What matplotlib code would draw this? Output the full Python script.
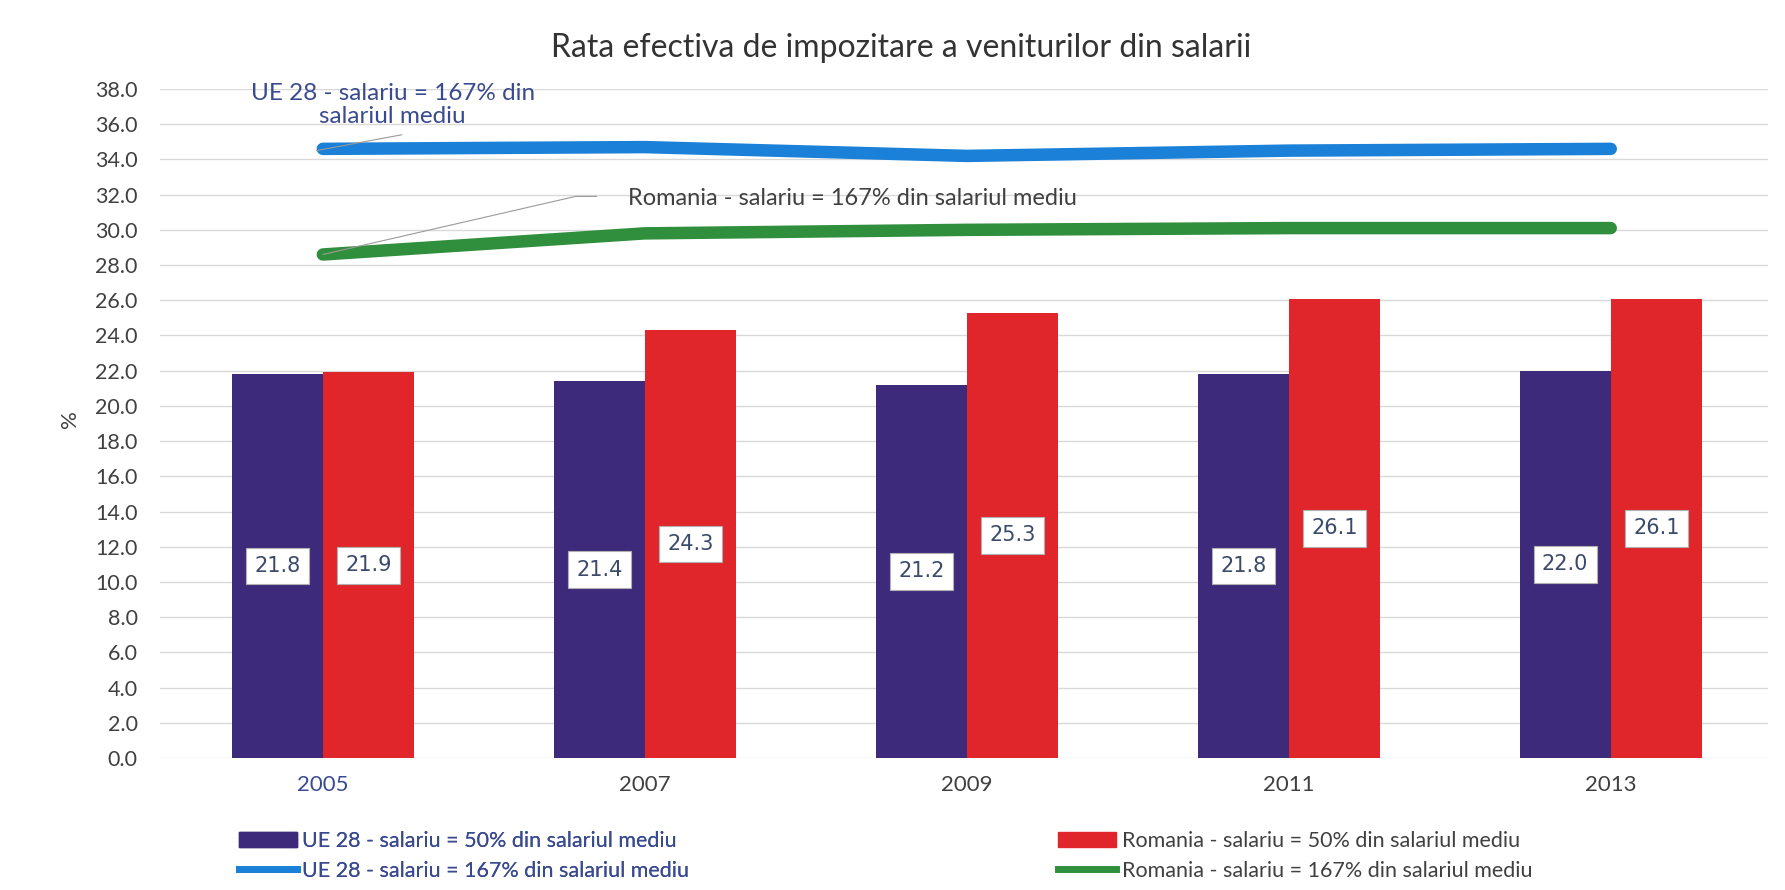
import matplotlib
matplotlib.use("Agg")
import matplotlib.pyplot as plt
from matplotlib.patches import Patch
from matplotlib.lines import Line2D
import numpy as np

plt.rcParams['font.family'] = ['Lato', 'DejaVu Sans']

years = ["2005", "2007", "2009", "2011", "2013"]
ue_50 = [21.8, 21.4, 21.2, 21.8, 22.0]
ro_50 = [21.9, 24.3, 25.3, 26.1, 26.1]
ue_167 = [34.6, 34.7, 34.2, 34.5, 34.6]
ro_167 = [28.6, 29.8, 30.0, 30.1, 30.1]
yticks = np.arange(0, 38.1, 2.0)

title = "Rata efectiva de impozitare a veniturilor din salarii"
lab_ue50 = "UE 28 - salariu = 50% din salariul mediu"
lab_ro50 = "Romania - salariu = 50% din salariul mediu"
lab_ue167 = "UE 28 - salariu = 167% din salariul mediu"
lab_ro167 = "Romania - salariu = 167% din salariul mediu"

c_purple = "#3d2a7a"
c_red = "#e0262b"
c_blue = "#1a80d8"
c_green = "#2f8f3c"
c_text = "#404040"
c_bluetext = "#3a4a90"

fig = plt.figure(figsize=(17.85, 8.9), dpi=100)
ax = fig.add_axes([0.0896, 0.1483, 0.9008, 0.7517])

x = np.arange(len(years))
w = 0.283
ax.bar(x - w / 2, ue_50, width=w, color=c_purple, zorder=2)
ax.bar(x + w / 2, ro_50, width=w, color=c_red, zorder=2)

ax.plot(x, ue_167, color=c_blue, lw=9, solid_capstyle='round', solid_joinstyle='round', zorder=3)
ax.plot(x, ro_167, color=c_green, lw=9, solid_capstyle='round', solid_joinstyle='round', zorder=3)

box = dict(boxstyle="square,pad=0.4", fc="white", ec="#b0b0b0", lw=0.8)
for xi, v in zip(x, ue_50):
    ax.text(xi - w / 2, v / 2, f"{v:.1f}", ha="center", va="center", fontsize=15,
            family="DejaVu Sans", color="#3b4a6b", bbox=box, zorder=5)
for xi, v in zip(x, ro_50):
    ax.text(xi + w / 2, v / 2, f"{v:.1f}", ha="center", va="center", fontsize=15,
            family="DejaVu Sans", color="#3b4a6b", bbox=box, zorder=5)

ax.set_ylim(0, 38)
ax.set_xlim(-0.506, 4.488)
ax.set_yticks(yticks)
ax.set_yticklabels([f"{t:.1f}" for t in yticks], fontsize=15.5, color=c_text)
ax.set_xticks(x)
ax.set_xticklabels(years, fontsize=16, color=c_text)
ax.get_xticklabels()[0].set_color(c_bluetext)
ax.tick_params(axis='y', length=0, pad=16)
ax.tick_params(axis='x', length=0, pad=12)
ax.grid(axis='y', color="#d9d9d9", lw=1, zorder=0)
for s in ax.spines.values():
    s.set_visible(False)
ax.set_ylabel("%", fontsize=16, color=c_text)
ax.yaxis.set_label_coords(-0.050, 0.507)

# annotations
ax.plot([-0.02, 0.245], [34.5, 35.4], color="#9a9a9a", lw=0.8, zorder=4)
ax.text(0.217, 37.1, "UE 28 - salariu = 167% din\nsalariul mediu", ha="center", va="center",
        fontsize=17.5, color=c_bluetext, linespacing=1.15, zorder=6)
ax.plot([0.0, 0.785, 0.85], [28.6, 31.9, 31.9], color="#9a9a9a", lw=0.8, zorder=4)
ax.text(0.947, 31.8, "Romania - salariu = 167% din salariul mediu", ha="left", va="center",
        fontsize=17, color=c_text, zorder=6)

fig.text(0.505, 0.946, title, ha="center", va="center", fontsize=23, color="#333333")

h1 = [Patch(color=c_purple), Line2D([0], [0], color=c_blue, lw=5)]
h2 = [Patch(color=c_red), Line2D([0], [0], color=c_green, lw=5)]
leg1 = fig.legend(h1, [lab_ue50, lab_ue167], loc="upper left", bbox_to_anchor=(0.123, 0.088),
                  frameon=False, fontsize=15.5, handlelength=2.7, handleheight=0.7,
                  handletextpad=0.25, labelspacing=0.45, labelcolor=c_bluetext)
leg2 = fig.legend(h2, [lab_ro50, lab_ro167], loc="upper left", bbox_to_anchor=(0.582, 0.088),
                  frameon=False, fontsize=15.5, handlelength=2.7, handleheight=0.7,
                  handletextpad=0.25, labelspacing=0.45, labelcolor=c_text)
fig.add_artist(leg1)

fig.savefig("out.png", dpi=100)
